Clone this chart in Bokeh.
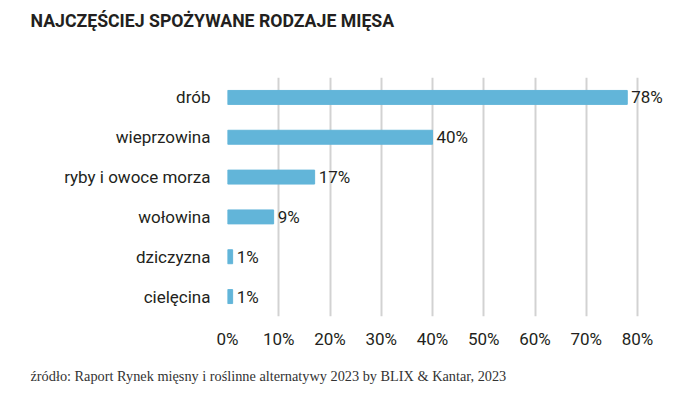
from bokeh.plotting import figure
from bokeh.models import ColumnDataSource, FactorRange, Range1d, FixedTicker, PrintfTickFormatter, Title
from bokeh.core.properties import value
from bokeh.embed import file_html
from bokeh.resources import INLINE

categories = ["drób", "wieprzowina", "ryby i owoce morza", "wołowina", "dziczyzna", "cielęcina"]
values = [78, 40, 17, 9, 1, 1]
value_labels = ["78%", "40%", "17%", "9%", "1%", "1%"]
tick_values = [0, 10, 20, 30, 40, 50, 60, 70, 80]
title_text = "NAJCZĘŚCIEJ SPOŻYWANE RODZAJE MIĘSA"
source_text = "źródło: Raport Rynek mięsny i roślinne alternatywy 2023 by BLIX & Kantar, 2023"

TEXT = "#231f20"
BAR = "#62b5d9"
W, H = 680, 387

src = ColumnDataSource(dict(cat=categories, val=values, lab=value_labels))

p = figure(width=W, height=H, output_backend="svg", toolbar_location=None,
           y_range=FactorRange(factors=list(reversed(categories)), range_padding=0),
           x_range=Range1d(0, 88),
           min_border_left=227, min_border_right=2, min_border_top=77, min_border_bottom=71)
p.outline_line_color = None
p.background_fill_color = "white"
p.border_fill_color = "white"

p.title.text = title_text
p.title.align = "left"
p.title.vertical_align = "top"
p.title.offset = -197
p.title.standoff = 20
p.title.text_font = "Roboto"
p.title.text_font_style = "bold"
p.title.text_font_size = "17.7px"
p.title.text_color = TEXT

# spacer between frame and title
p.add_layout(Title(text=" ", text_font_size="1px", standoff=32), "above")

# spacer between x axis and source note
p.add_layout(Title(text=" ", text_font_size="1px", standoff=10), "below")
p.add_layout(Title(text=source_text, align="left", offset=-197, standoff=2,
                   text_font="Liberation Serif", text_font_style="normal",
                   text_font_size="14.3px", text_color="#333333"), "below")

p.hbar(y="cat", right="val", left=0, height=0.35, color=BAR, source=src)
p.text(x="val", y="cat", text="lab", source=src, x_offset=4, text_baseline="middle",
       text_font=value("Roboto"), text_font_size="17px", text_color=TEXT)

p.xaxis.ticker = FixedTicker(ticks=tick_values)
p.xaxis.formatter = PrintfTickFormatter(format="%d%%")
p.xaxis.axis_line_color = None
p.xaxis.major_tick_line_color = None
p.xaxis.minor_tick_line_color = None
p.xaxis.major_label_standoff = 6
p.xaxis.major_label_text_font = "Roboto"
p.xaxis.major_label_text_font_size = "17px"
p.xaxis.major_label_text_color = TEXT

p.yaxis.axis_line_color = None
p.yaxis.major_tick_line_color = None
p.yaxis.minor_tick_line_color = None
p.yaxis.major_label_standoff = 11
p.yaxis.major_label_text_font = "Roboto"
p.yaxis.major_label_text_font_size = "17px"
p.yaxis.major_label_text_color = TEXT

p.xgrid.ticker = FixedTicker(ticks=tick_values)
p.xgrid.grid_line_color = "#d2d2d2"
p.xgrid.grid_line_width = 2
p.ygrid.grid_line_color = None

open("out.html", "w").write(file_html(p, INLINE))
